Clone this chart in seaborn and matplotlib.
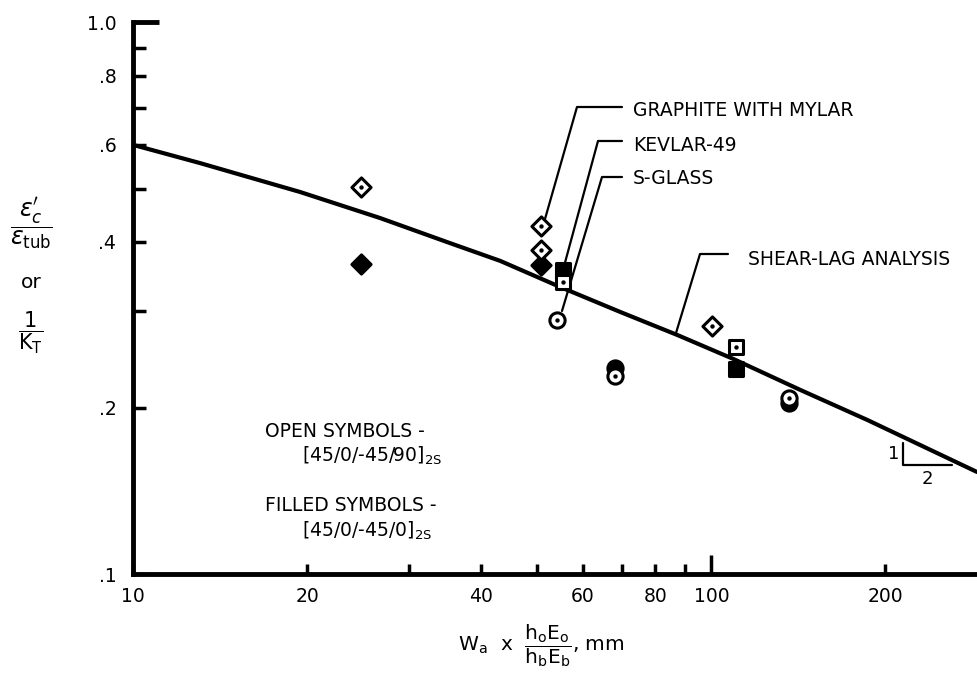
import matplotlib
matplotlib.use('Agg')
import matplotlib.pyplot as plt
import seaborn as sns
import pandas as pd

# Shear-lag analysis curve
shear_x = [10, 13.06, 19.45, 26.75, 35.35, 43.15, 54.8, 69.6, 87.3, 109.2, 142.6, 186.2, 288]
shear_y = [0.600, 0.556, 0.4928, 0.442, 0.398, 0.3696, 0.3314, 0.2986, 0.2713, 0.2454, 0.2156, 0.1902, 0.1531]

# Open symbols - [45/0/-45/90]2S
open_graphite_x = [24.8, 50.8, 50.8, 100.4]
open_graphite_y = [0.503, 0.428, 0.387, 0.282]
open_kevlar_x = [55.4, 110.5]
open_kevlar_y = [0.3385, 0.258]
open_sglass_x = [54.1, 68.2, 136.5]
open_sglass_y = [0.289, 0.229, 0.2085]

# Filled symbols - [45/0/-45/0]2S
filled_graphite_x = [24.8, 50.8]
filled_graphite_y = [0.365, 0.3635]
filled_kevlar_x = [55.4, 110.5]
filled_kevlar_y = [0.356, 0.2353]
filled_sglass_x = [68.2, 136.5]
filled_sglass_y = [0.2363, 0.2042]

x_ticks = [10, 20, 30, 40, 50, 60, 70, 80, 90, 100, 200]
x_labels = ['10', '20', '', '40', '', '60', '', '80', '', '100', '200']
y_ticks = [0.1, 0.2, 0.3, 0.4, 0.5, 0.6, 0.7, 0.8, 0.9, 1.0]
y_labels = ['.1', '.2', '', '.4', '', '.6', '', '.8', '', '1.0']

# build one table of test points
rows = []
for layup, sets in [('open', [('graphite', open_graphite_x, open_graphite_y),
                              ('kevlar', open_kevlar_x, open_kevlar_y),
                              ('sglass', open_sglass_x, open_sglass_y)]),
                    ('filled', [('graphite', filled_graphite_x, filled_graphite_y),
                                ('kevlar', filled_kevlar_x, filled_kevlar_y),
                                ('sglass', filled_sglass_x, filled_sglass_y)])]:
    for mat, xs, ys in sets:
        for x, y in zip(xs, ys):
            rows.append({'x': x, 'y': y, 'material': mat, 'layup': layup})
df = pd.DataFrame(rows)

sns.set_style('white')
plt.rcParams['font.family'] = ['DejaVu Sans']
plt.rcParams['mathtext.fontset'] = 'dejavusans'
plt.rcParams['text.color'] = 'black'

W, H = 977, 685
fig = plt.figure(figsize=(W / 100, H / 100), dpi=100)
ax = fig.add_axes([133 / W, 111 / H, 844 / W, 551.5 / H])


def px(x, y):
    # pixel position -> figure fraction
    return x / W, 1 - y / H


ax.set_xscale('log')
ax.set_yscale('log')

sns.lineplot(x=shear_x, y=shear_y, color='black', linewidth=3, ax=ax, zorder=3)

markers = {'graphite': 'D', 'kevlar': 's', 'sglass': 'o'}
sizes = {'graphite': 95, 'kevlar': 110, 'sglass': 120}

# filled first, open symbols on top
for mat in ['graphite', 'kevlar', 'sglass']:
    sub = df[(df.material == mat) & (df.layup == 'filled')]
    sns.scatterplot(data=sub, x='x', y='y', marker=markers[mat], s=sizes[mat],
                    color='black', edgecolor='black', linewidth=2.2,
                    legend=False, ax=ax, zorder=4)
for mat in ['graphite', 'kevlar', 'sglass']:
    sub = df[(df.material == mat) & (df.layup == 'open')]
    sns.scatterplot(data=sub, x='x', y='y', marker=markers[mat], s=sizes[mat],
                    color='white', edgecolor='black', linewidth=2.2,
                    legend=False, ax=ax, zorder=5)
    sns.scatterplot(data=sub, x='x', y='y', marker='o', s=10,
                    color='black', linewidth=0, legend=False, ax=ax, zorder=6)

ax.set_xlim(10, 288)
ax.set_ylim(0.1, 1.0)
ax.set_xticks(x_ticks, labels=x_labels)
ax.set_yticks(y_ticks, labels=y_labels)
ax.minorticks_off()
ax.set_xlabel('')
ax.set_ylabel('')

for side in ['top', 'right']:
    ax.spines[side].set_visible(False)
for side in ['left', 'bottom']:
    ax.spines[side].set_linewidth(3.5)
    ax.spines[side].set_color('black')

ax.tick_params(axis='both', direction='in', width=2.5, labelsize=13.5,
               colors='black', bottom=True, left=True)
ax.tick_params(axis='x', length=7, pad=9)
ax.tick_params(axis='y', length=9, pad=12)
for t, v in zip(ax.xaxis.get_major_ticks(), x_ticks):
    if v == 100:
        t.tick1line.set_markersize(14)
for t, v in zip(ax.yaxis.get_major_ticks(), y_ticks):
    if v == 1.0:
        t.tick1line.set_markersize(19)
        t.tick1line.set_markeredgewidth(3.5)

# leader lines to the labels
leaders = [
    [(622, 107), (577, 107), (543, 226)],   # graphite with mylar
    [(622, 141), (598, 141), (563, 270)],   # kevlar-49
    [(622, 177), (602, 177), (562, 311)],   # s-glass
    [(728, 254), (700, 254), (676, 333)],   # shear-lag analysis
]
for pts in leaders:
    xs, ys = zip(*[px(*p) for p in pts])
    ax.plot(xs, ys, color='black', linewidth=1.6, transform=fig.transFigure,
            zorder=3.5)

fs = 13.5
for label, (x, y) in [('GRAPHITE WITH MYLAR', (633, 116)),
                      ('KEVLAR-49', (633, 151)),
                      ('S-GLASS', (633, 184)),
                      ('SHEAR-LAG ANALYSIS', (748, 265)),
                      ('OPEN SYMBOLS -', (265, 437)),
                      (r'[45/0/-45/90]$_{\mathregular{2S}}$', (302, 462)),
                      ('FILLED SYMBOLS -', (265, 511)),
                      (r'[45/0/-45/0]$_{\mathregular{2S}}$', (302, 537))]:
    fig.text(*px(x, y), label, fontsize=fs, ha='left', va='baseline')

# slope triangle 1:2
tri = [(903, 443), (903, 465), (952, 465)]
xs, ys = zip(*[px(*p) for p in tri])
ax.plot(xs, ys, color='black', linewidth=1.6, transform=fig.transFigure, zorder=3)
fig.text(*px(899, 454), '1', fontsize=13, ha='right', va='center')
fig.text(*px(927, 479), '2', fontsize=13, ha='center', va='center')

# axis titles
fig.text(*px(31, 224), r'$\dfrac{\epsilon_c^{\prime}}{\epsilon_{\mathrm{tub}}}$',
         fontsize=17, ha='center', va='center')
fig.text(*px(31, 283), 'or', fontsize=14.5, ha='center', va='center')
fig.text(*px(31, 333), r'$\dfrac{1}{\mathrm{K_T}}$', fontsize=15,
         ha='center', va='center')
fig.text(*px(541, 646), r'$\mathrm{W_a}$  x  $\dfrac{\mathrm{h_oE_o}}{\mathrm{h_bE_b}}$, mm',
         fontsize=14.5, ha='center', va='center')

fig.savefig('out.png', dpi=100)
